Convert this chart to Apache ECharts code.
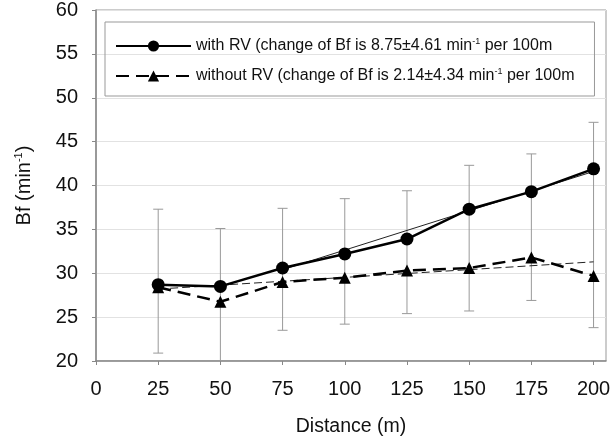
<!DOCTYPE html>
<html>
<head>
<meta charset="utf-8">
<script src="https://cdn.jsdelivr.net/npm/echarts@6/dist/echarts.min.js"></script>
<style>
  html, body { margin: 0; padding: 0; background: #fff; }
  #chart { width: 615px; height: 445px; }
</style>
</head>
<body>
<div id="chart"></div>
<script>
// distances (m)
var distance = [25, 50, 75, 100, 125, 150, 175, 200];
// mean Bf values
var withRV = [28.7, 28.5, 30.6, 32.2, 33.9, 37.3, 39.3, 41.9];
var withoutRV = [28.4, 26.75, 29.0, 29.5, 30.3, 30.6, 31.8, 29.7];
// error bar extents as drawn (upper end from with RV, lower end from without RV)
var errHigh = [37.3, 35.1, 37.4, 38.5, 39.4, 42.3, 43.6, 47.2];
var errLow = [20.9, 18.5, 23.5, 24.2, 25.4, 25.7, 26.9, 23.8];
// trend lines, end points
var trendWithX = [75, 200];
var trendWithY = [30.4, 41.6];
var trendWithoutX = [25, 200];
var trendWithoutY = [28.2, 31.3];

function pairs(xs, ys) {
    var out = [];
    for (var i = 0; i < xs.length; i++) {
        out.push([xs[i], ys[i]]);
    }
    return out;
}

var errData = [];
for (var i = 0; i < distance.length; i++) {
    errData.push([distance[i], errLow[i], errHigh[i]]);
}

var chart = echarts.init(document.getElementById('chart'));
var font = 'Liberation Sans, Arial, sans-serif';

var option = {
    animation: false,
    backgroundColor: '#fff',
    textStyle: { fontFamily: font },
    grid: {
        left: 96, right: 9, top: 10, bottom: 84,
        show: true, borderColor: '#999', borderWidth: 1
    },
    legend: {
        data: ['with RV', 'without RV'],
        orient: 'vertical',
        left: 105, top: 22,
        padding: [15, 20, 12, 10],
        itemWidth: 75, itemHeight: 14, itemGap: 13,
        borderColor: '#999', borderWidth: 1,
        textStyle: {
            fontSize: 16, color: '#111', fontFamily: font,
            rich: {
                sup: { fontSize: 9, verticalAlign: 'bottom', padding: [0, 0, 9, 0], color: '#111', fontFamily: font }
            }
        },
        formatter: function (name) {
            if (name === 'with RV') {
                return 'with RV (change of Bf is 8.75±4.61 min{sup|-1} per 100m';
            }
            return 'without RV (change of Bf is 2.14±4.34 min{sup|-1} per 100m';
        }
    },
    xAxis: {
        type: 'value',
        min: 0, max: 205, interval: 25,
        name: 'Distance (m)',
        nameLocation: 'middle',
        nameGap: 56,
        nameTextStyle: { fontSize: 19.5, color: '#111', fontFamily: font },
        axisLine: { lineStyle: { color: '#888', width: 1.5 } },
        axisTick: { show: true, length: 4, lineStyle: { color: '#888' } },
        axisLabel: { fontSize: 20, color: '#111', margin: 18, showMaxLabel: false },
        splitLine: { show: false }
    },
    yAxis: {
        type: 'value',
        min: 20, max: 60, interval: 5,
        name: 'Bf (min{sup|-1})',
        nameLocation: 'middle',
        nameGap: 61,
        nameRotate: 90,
        nameTextStyle: {
            fontSize: 20, color: '#111', fontFamily: font,
            rich: { sup: { fontSize: 11, verticalAlign: 'bottom', padding: [0, 0, 11, 0], color: '#111' } }
        },
        axisLine: { show: true, lineStyle: { color: '#888', width: 1.5 } },
        axisTick: { show: true, length: 4, lineStyle: { color: '#888' } },
        axisLabel: { fontSize: 20, color: '#111', margin: 18 },
        splitLine: { show: true, lineStyle: { color: '#e2e2e2', width: 1 } }
    },
    series: [
        {
            name: 'error',
            type: 'custom',
            clip: true,
            z: 1,
            data: errData,
            renderItem: function (params, api) {
                var x = api.value(0);
                var lo = api.coord([x, api.value(1)]);
                var hi = api.coord([x, api.value(2)]);
                var w = 5;
                var st = { stroke: '#999', lineWidth: 1 };
                return {
                    type: 'group',
                    children: [
                        { type: 'line', shape: { x1: lo[0], y1: lo[1], x2: hi[0], y2: hi[1] }, style: st },
                        { type: 'line', shape: { x1: hi[0] - w, y1: hi[1], x2: hi[0] + w, y2: hi[1] }, style: st },
                        { type: 'line', shape: { x1: lo[0] - w, y1: lo[1], x2: lo[0] + w, y2: lo[1] }, style: st }
                    ]
                };
            }
        },
        {
            name: 'trend with',
            type: 'line',
            z: 2,
            symbol: 'none',
            data: pairs(trendWithX, trendWithY),
            lineStyle: { color: '#222', width: 1 }
        },
        {
            name: 'trend without',
            type: 'line',
            z: 2,
            symbol: 'none',
            data: pairs(trendWithoutX, trendWithoutY),
            lineStyle: { color: '#222', width: 1, type: [8, 4] }
        },
        {
            name: 'with RV',
            type: 'line',
            z: 3,
            symbol: 'circle',
            symbolSize: 13,
            data: pairs(distance, withRV),
            itemStyle: { color: '#000' },
            lineStyle: { color: '#000', width: 2.5 }
        },
        {
            name: 'without RV',
            type: 'line',
            z: 3,
            symbol: 'triangle',
            symbolSize: 12,
            data: pairs(distance, withoutRV),
            itemStyle: { color: '#000' },
            lineStyle: { color: '#000', width: 2.5, type: [13, 7] }
        }
    ]
};

chart.setOption(option);
window.onresize = chart.resize;
</script>
</body>
</html>
